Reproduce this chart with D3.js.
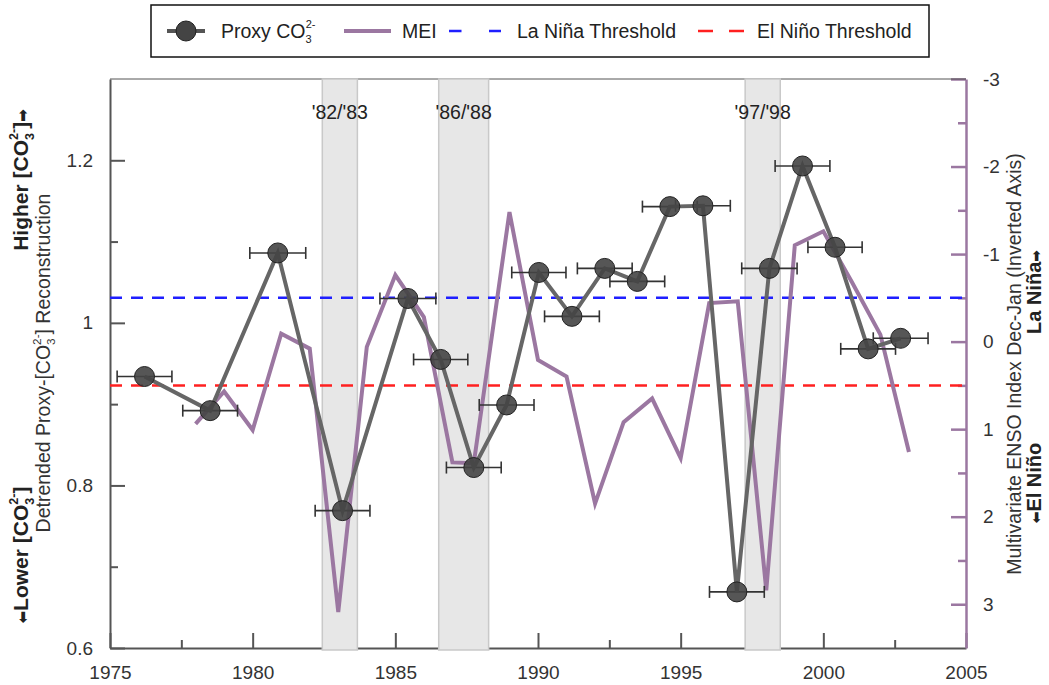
<!DOCTYPE html>
<html><head><meta charset="utf-8">
<script src="https://cdn.jsdelivr.net/npm/d3@7"></script>
<style>
body{margin:0;background:#fff}
text{font-family:"Liberation Sans",Arial,sans-serif}
</style>
</head><body>
<svg id="c" width="1049" height="685"></svg>
<script>
// ---------- DATA ----------
const proxyYears = [1976.21,1978.51,1980.88,1983.15,1985.44,1986.59,1987.75,1988.90,1990.03,1991.19,1992.34,1993.48,1994.62,1995.78,1996.97,1998.11,1999.27,2000.41,2001.57,2002.71];
const proxyValues = [0.934,0.892,1.086,0.769,1.030,0.955,0.822,0.899,1.062,1.008,1.067,1.051,1.143,1.144,0.669,1.067,1.193,1.093,0.968,0.981];
const proxyYearErr = [0.96,0.96,0.98,0.96,0.98,0.95,0.96,0.96,0.95,0.96,0.96,0.96,0.96,0.96,0.96,0.97,0.96,0.95,0.96,0.96];
const meiYears = [1978,1979,1980,1981,1982,1983,1984,1985,1986,1987,1987.75,1989,1990,1991,1992,1993,1994,1995,1996,1997,1998,1999,2000,2001,2002,2003];
const meiValues = [0.94,0.57,1.01,-0.09,0.08,3.09,0.06,-0.76,-0.28,1.38,1.39,-1.48,0.21,0.40,1.85,0.92,0.65,1.33,-0.44,-0.46,2.84,-1.10,-1.26,-0.68,-0.08,1.26];
const eventLabels = ["'82/'83","'86/'88","'97/'98"];
const eventStart = [1982.44,1986.52,1997.26];
const eventEnd = [1983.67,1988.27,1998.49];
const laNinaThreshold = -0.5;
const elNinoThreshold = 0.5;
const xTickLabels = [1975,1980,1985,1990,1995,2000,2005];
const xMinorTicks = [1977.5,1982.5,1987.5,1992.5,1997.5,2002.5];
const yLeftTickLabels = [0.6,0.8,1,1.2];
const yLeftMinorTicks = [0.7,0.9,1.1];
const yRightTickLabels = [-3,-2,-1,0,1,2,3];
const yRightMinorTicks = [-2.5,-1.5,-0.5,0.5,1.5,2.5];

// ---------- LAYOUT ----------
const L = 110, R = 966, T = 79, B = 648;
const svg = d3.select("#c");
const x = d3.scaleLinear().domain([1975,2005]).range([L,R]);
const yL = d3.scaleLinear().domain([0.6,1.3]).range([B,T]);
const yR = d3.scaleLinear().domain([-3,3.5]).range([T,B]);
const purple = "#9b77a1";
const axisGray = "#555";
const labelColor = "#333";
const tickFont = 19;

// axes
const gx = svg.append("g").attr("transform",`translate(0,${B})`)
  .call(d3.axisBottom(x).tickValues(xTickLabels).tickFormat(d3.format("d")).tickSizeInner(-15).tickSizeOuter(0).tickPadding(18));
const gxm = svg.append("g").attr("transform",`translate(0,${B})`)
  .call(d3.axisBottom(x).tickValues(xMinorTicks).tickFormat("").tickSizeInner(-8).tickSizeOuter(0));
gxm.select(".domain").remove();

const gyl = svg.append("g").attr("transform",`translate(${L},0)`)
  .call(d3.axisLeft(yL).tickValues(yLeftTickLabels).tickFormat(d=>d===1?"1":d3.format(".1f")(d)).tickSizeInner(-15).tickSizeOuter(0).tickPadding(17));
const gylm = svg.append("g").attr("transform",`translate(${L},0)`)
  .call(d3.axisLeft(yL).tickValues(yLeftMinorTicks).tickFormat("").tickSizeInner(-8).tickSizeOuter(0));
gylm.select(".domain").remove();

const gyr = svg.append("g").attr("transform",`translate(${R},0)`)
  .call(d3.axisRight(yR).tickValues(yRightTickLabels).tickFormat(d3.format("d")).tickSizeInner(-15).tickSizeOuter(0).tickPadding(17));
const gyrm = svg.append("g").attr("transform",`translate(${R},0)`)
  .call(d3.axisRight(yR).tickValues(yRightMinorTicks).tickFormat("").tickSizeInner(-8).tickSizeOuter(0));
gyrm.select(".domain").remove();

[gx,gxm,gyl,gylm].forEach(g=>{
  g.selectAll(".domain,line").attr("stroke",axisGray).attr("stroke-width",2);
});
[gyr,gyrm].forEach(g=>{
  g.selectAll(".domain,line").attr("stroke",purple).attr("stroke-width",2.5);
});
svg.selectAll(".tick text").attr("font-size",tickFont).attr("fill",labelColor)
  .attr("font-family","'Liberation Sans',Arial,sans-serif");
gyr.selectAll(".tick text").text(d=>d<0?"-"+Math.abs(d):d);

// top frame
svg.append("line").attr("x1",L).attr("x2",R).attr("y1",T).attr("y2",T)
  .attr("stroke",axisGray).attr("stroke-width",1);

// event bands
const bandIdx = d3.range(eventLabels.length);
svg.append("g").selectAll("rect").data(bandIdx).join("rect")
  .attr("x",i=>x(eventStart[i])).attr("width",i=>x(eventEnd[i])-x(eventStart[i]))
  .attr("y",T).attr("height",B-T+2)
  .attr("fill","#e7e7e7").attr("stroke","#c9c9c9").attr("stroke-width",1.5);
svg.append("g").selectAll("text").data(bandIdx).join("text")
  .attr("x",i=>(x(eventStart[i])+x(eventEnd[i]))/2).attr("y",119)
  .attr("text-anchor","middle").attr("font-size",19.5).attr("fill","#222")
  .text(i=>eventLabels[i]);

// thresholds
svg.append("line").attr("x1",L).attr("x2",R).attr("y1",yR(laNinaThreshold)).attr("y2",yR(laNinaThreshold))
  .attr("stroke","#1f1fff").attr("stroke-width",2.5).attr("stroke-dasharray","12,9");
svg.append("line").attr("x1",L).attr("x2",R).attr("y1",yR(elNinoThreshold)).attr("y2",yR(elNinoThreshold))
  .attr("stroke","#ff2020").attr("stroke-width",2.5).attr("stroke-dasharray","12,9");

// MEI line
const meiLine = d3.line().x((d,i)=>x(meiYears[i])).y(d=>yR(d));
svg.append("path").datum(meiValues).attr("d",meiLine)
  .attr("fill","none").attr("stroke",purple).attr("stroke-width",4).attr("stroke-linejoin","miter");

// proxy error bars
const pIdx = d3.range(proxyYears.length);
const eb = svg.append("g").attr("stroke","#333").attr("stroke-width",1.6);
eb.selectAll("line.h").data(pIdx).join("line").attr("class","h")
  .attr("x1",i=>x(proxyYears[i]-proxyYearErr[i])).attr("x2",i=>x(proxyYears[i]+proxyYearErr[i]))
  .attr("y1",i=>yL(proxyValues[i])).attr("y2",i=>yL(proxyValues[i]));
eb.selectAll("line.l").data(pIdx).join("line").attr("class","l")
  .attr("x1",i=>x(proxyYears[i]-proxyYearErr[i])).attr("x2",i=>x(proxyYears[i]-proxyYearErr[i]))
  .attr("y1",i=>yL(proxyValues[i])-6).attr("y2",i=>yL(proxyValues[i])+6);
eb.selectAll("line.r").data(pIdx).join("line").attr("class","r")
  .attr("x1",i=>x(proxyYears[i]+proxyYearErr[i])).attr("x2",i=>x(proxyYears[i]+proxyYearErr[i]))
  .attr("y1",i=>yL(proxyValues[i])-6).attr("y2",i=>yL(proxyValues[i])+6);

// proxy line
const proxyLine = d3.line().x((d,i)=>x(proxyYears[i])).y(d=>yL(d));
svg.append("path").datum(proxyValues).attr("d",proxyLine)
  .attr("fill","none").attr("stroke","#666").attr("stroke-width",4);
svg.append("g").selectAll("circle").data(pIdx).join("circle")
  .attr("cx",i=>x(proxyYears[i])).attr("cy",i=>yL(proxyValues[i])).attr("r",10)
  .attr("fill","#444").attr("fill-opacity",0.9).attr("stroke","#222").attr("stroke-width",1);

// ---------- LEGEND ----------
const lgFont = 19.5;
const lg = svg.append("g");
lg.append("rect").attr("x",151).attr("y",5).attr("width",778).attr("height",52)
  .attr("fill","#fff").attr("stroke","#111").attr("stroke-width",1.5);
const ly = 31;
lg.append("line").attr("x1",167).attr("x2",205).attr("y1",ly).attr("y2",ly).attr("stroke","#555").attr("stroke-width",4);
lg.append("circle").attr("cx",186).attr("cy",ly).attr("r",10).attr("fill","#444").attr("stroke","#222");
const t1 = lg.append("text").attr("x",221).attr("y",ly+7).attr("font-size",lgFont).attr("fill","#222");
t1.append("tspan").text("Proxy CO");
t1.append("tspan").attr("font-size",11).attr("dy",5).text("3");
t1.append("tspan").attr("font-size",11).attr("dx",-6).attr("dy",-15).text("2-");
lg.append("line").attr("x1",344).attr("x2",391).attr("y1",ly).attr("y2",ly).attr("stroke",purple).attr("stroke-width",4);
lg.append("text").attr("x",402).attr("y",ly+7).attr("font-size",lgFont).attr("fill","#222").text("MEI");
lg.append("line").attr("x1",449).attr("x2",501).attr("y1",ly).attr("y2",ly).attr("stroke","#1f1fff").attr("stroke-width",2.5).attr("stroke-dasharray","12.5,27.5");
lg.append("text").attr("x",517).attr("y",ly+7).attr("font-size",lgFont).attr("fill","#222").text("La Niña Threshold");
lg.append("line").attr("x1",698).attr("x2",744).attr("y1",ly).attr("y2",ly).attr("stroke","#ff2020").attr("stroke-width",2.5).attr("stroke-dasharray","15,16");
lg.append("text").attr("x",757).attr("y",ly+7).attr("font-size",lgFont).attr("fill","#222").text("El Niño Threshold");

// ---------- AXIS TITLES ----------
function co3(sel, size){
  sel.append("tspan").text("CO");
  sel.append("tspan").attr("font-size",size*0.6).attr("dy",size*0.28).text("3");
  sel.append("tspan").attr("font-size",size*0.6).attr("dx",-size*0.33).attr("dy",-size*0.75).text("2-");
  sel.append("tspan").attr("dy",size*0.47).text("]");
}
// left regular title
const ttl = 19.5;
const lt = svg.append("text").attr("transform","translate(50,363) rotate(-90)")
  .attr("text-anchor","middle").attr("font-size",ttl).attr("fill","#333");
lt.append("tspan").text("Detrended Proxy-[");
co3(lt,ttl);
lt.append("tspan").text(" Reconstruction");
// left bold lines
const bld = 21;
const hb = svg.append("text").attr("transform","translate(28,180) rotate(-90)")
  .attr("text-anchor","middle").attr("font-size",bld).attr("font-weight","bold").attr("fill","#222");
hb.append("tspan").text("Higher [");
co3(hb,bld);
hb.append("tspan").attr("font-family","DejaVu Sans").attr("font-size",15).text("➡");
const lb = svg.append("text").attr("transform","translate(28,555) rotate(-90)")
  .attr("text-anchor","middle").attr("font-size",bld).attr("font-weight","bold").attr("fill","#222");
lb.append("tspan").attr("font-family","DejaVu Sans").attr("font-size",15).text("⬅");
lb.append("tspan").text("Lower [");
co3(lb,bld);
// right titles
svg.append("text").attr("transform","translate(1021,364) rotate(-90)")
  .attr("text-anchor","middle").attr("font-size",19.5).attr("fill","#333")
  .text("Multivariate ENSO Index Dec-Jan (Inverted Axis)");
const ln = svg.append("text").attr("transform","translate(1041,292) rotate(-90)")
  .attr("text-anchor","middle").attr("font-size",20).attr("font-weight","bold").attr("fill","#222");
ln.append("tspan").text("La Niña");
ln.append("tspan").attr("font-family","DejaVu Sans").attr("font-size",14).text("➡");
const en = svg.append("text").attr("transform","translate(1041,483) rotate(-90)")
  .attr("text-anchor","middle").attr("font-size",20).attr("font-weight","bold").attr("fill","#222");
en.append("tspan").attr("font-family","DejaVu Sans").attr("font-size",14).text("⬅");
en.append("tspan").text("El Niño");
</script>
</body></html>
